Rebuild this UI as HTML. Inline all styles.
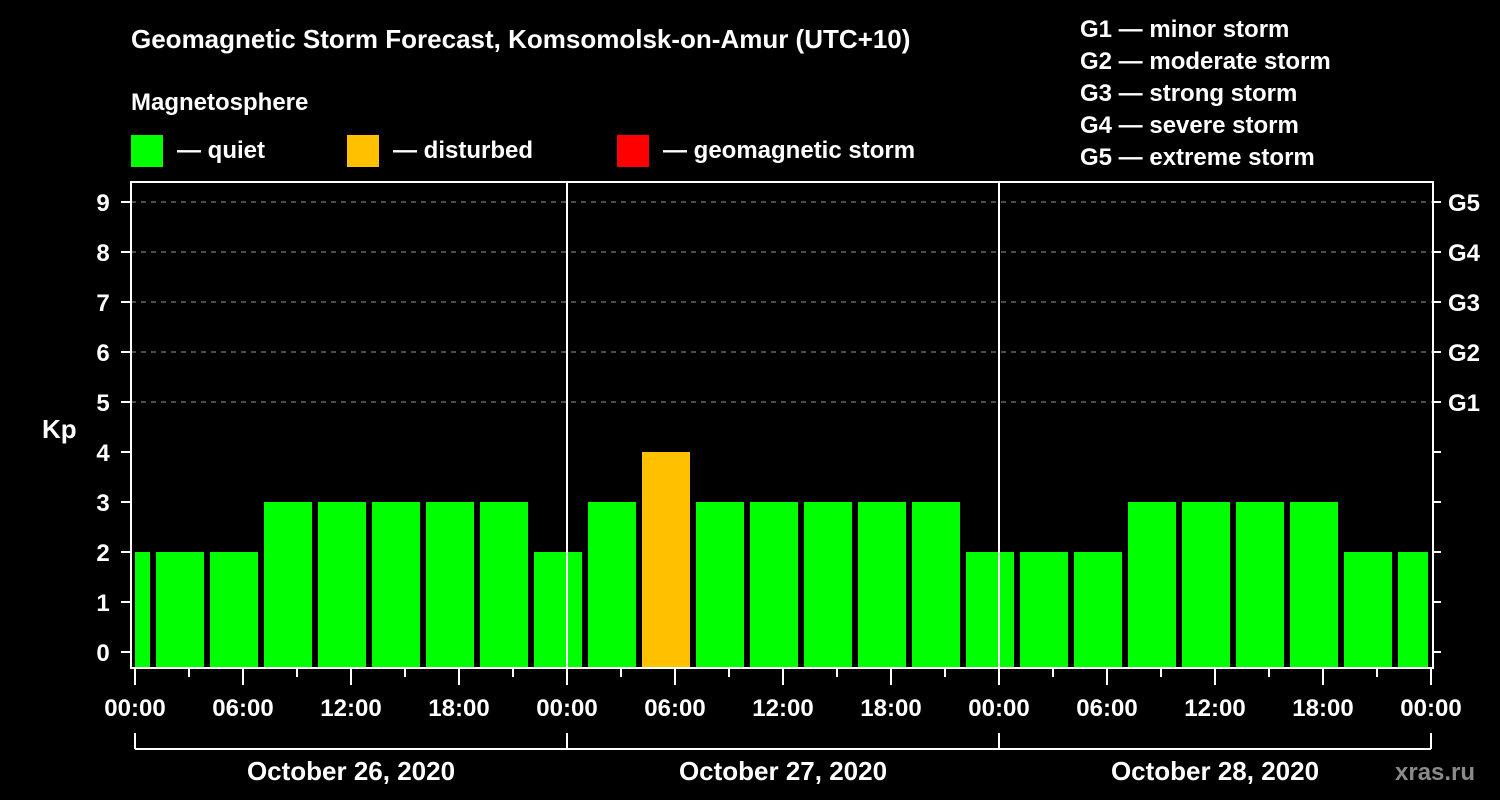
<!DOCTYPE html>
<html><head><meta charset="utf-8"><style>
html,body{margin:0;padding:0;background:#000;width:1500px;height:800px;overflow:hidden}
svg text{font-family:"Liberation Sans",Arial,sans-serif;font-weight:bold;fill:#fff}
</style></head><body>
<svg id="chart" width="1500" height="800" xmlns="http://www.w3.org/2000/svg">
<text x="131" y="48" font-size="26">Geomagnetic Storm Forecast, Komsomolsk-on-Amur (UTC+10)</text>
<text x="131" y="110" font-size="24">Magnetosphere</text>
<g><rect x="131" y="135" width="32" height="32" fill="#00ff00"/><text x="177" y="158" font-size="24">— quiet</text></g>
<g><rect x="347" y="135" width="32" height="32" fill="#ffc000"/><text x="393" y="158" font-size="24">— disturbed</text></g>
<g><rect x="617" y="135" width="32" height="32" fill="#ff0000"/><text x="663" y="158" font-size="24">— geomagnetic storm</text></g>
<g font-size="24">
<text x="1080" y="37">G1 — minor storm</text>
<text x="1080" y="69">G2 — moderate storm</text>
<text x="1080" y="101">G3 — strong storm</text>
<text x="1080" y="133">G4 — severe storm</text>
<text x="1080" y="165">G5 — extreme storm</text>
</g>
<text x="42" y="438" font-size="26">Kp</text>
<g id="grid"></g><g id="bars"></g><g id="axes"></g>
<text x="1395" y="780" font-size="24" fill="#888" style="fill:#8a8a8a">xras.ru</text>
</svg>
<script>
const binStartHours = [-2,1,4,7,10,13,16,19,22,25,28,31,34,37,40,43,46,49,52,55,58,61,64,67,70];
const kpValues = [2,2,2,3,3,3,3,3,2,3,4,3,3,3,3,3,2,2,2,3,3,3,3,2,2];
const dayLabels = ["October 26, 2020","October 27, 2020","October 28, 2020"];
const kpTicks = [0,1,2,3,4,5,6,7,8,9];
const gLabels = ["G1","G2","G3","G4","G5"];
const timeLabels = ["00:00","06:00","12:00","18:00"];

const NS="http://www.w3.org/2000/svg";
const X0=135, PXH=18, L=131, R=1433, T=182, B=668, XMAX=1431;
const x = h => X0 + h*PXH;
const y = v => 652 - 50*v;
function mk(tag, attrs, parent){const e=document.createElementNS(NS,tag);for(const k in attrs)e.setAttribute(k,attrs[k]);parent.appendChild(e);return e;}
const grid=document.getElementById('grid'), bars=document.getElementById('bars'), axes=document.getElementById('axes');

for(let i=0;i<gLabels.length;i++){
  const v=5+i;
  const ln=mk('line',{x1:L,x2:R,y1:y(v),y2:y(v),stroke:'#999','stroke-width':1,'stroke-dasharray':'5,5'},grid);
  
  
  const t=mk('text',{x:1448,y:y(v)+9,'font-size':24},axes);
  t.textContent=gLabels[i];
  
  
}
for(let i=0;i<kpValues.length;i++){
  const h=binStartHours[i], v=kpValues[i];
  const x1=Math.max(X0, x(h)+3), x2=Math.min(XMAX-3, x(h+3)-3);
  const col = v>=5?'#ff0000':(v>=4?'#ffc000':'#00ff00');
  const r=mk('rect',{x:x1,y:y(v),width:x2-x1,height:B-y(v),fill:col},bars);
  
  
}
// frame
const fr=mk('rect',{x:L,y:T,width:R-L,height:B-T,fill:'none',stroke:'#fff','stroke-width':2},axes);


for(let d=1;d<3;d++){
  const dl=mk('line',{x1:x(24*d),x2:x(24*d),y1:T,y2:B,stroke:'#fff','stroke-width':2},axes);
  
  
}
for(const v of kpTicks){
  mk('line',{x1:L-10,x2:L,y1:y(v),y2:y(v),stroke:'#fff','stroke-width':2},axes);
  mk('line',{x1:R,x2:R+8,y1:y(v),y2:y(v),stroke:'#fff','stroke-width':2},axes);
  const t=mk('text',{x:103,y:y(v)+9,'font-size':24,'text-anchor':'middle'},axes);
  t.textContent=v;
  
  
}
for(let h=0;h<=72;h+=3){
  const major=h%6===0;
  mk('line',{x1:x(h),x2:x(h),y1:B,y2:major?685:677,stroke:'#fff','stroke-width':2},axes);
  if(major){
    const t=mk('text',{x:x(h),y:716,'font-size':24,'text-anchor':'middle'},axes);
    t.textContent=timeLabels[(h/6)%4];
    
    
  }
}
mk('line',{x1:x(0),x2:x(72),y1:749,y2:749,stroke:'#fff','stroke-width':2},axes);
for(let d=0;d<=3;d++) mk('line',{x1:x(24*d),x2:x(24*d),y1:733,y2:749,stroke:'#fff','stroke-width':2},axes);
for(let d=0;d<3;d++){
  const t=mk('text',{x:x(24*d+12),y:780,'font-size':26,'text-anchor':'middle'},axes);
  t.textContent=dayLabels[d];
  
  
}
</script>
</body></html>
